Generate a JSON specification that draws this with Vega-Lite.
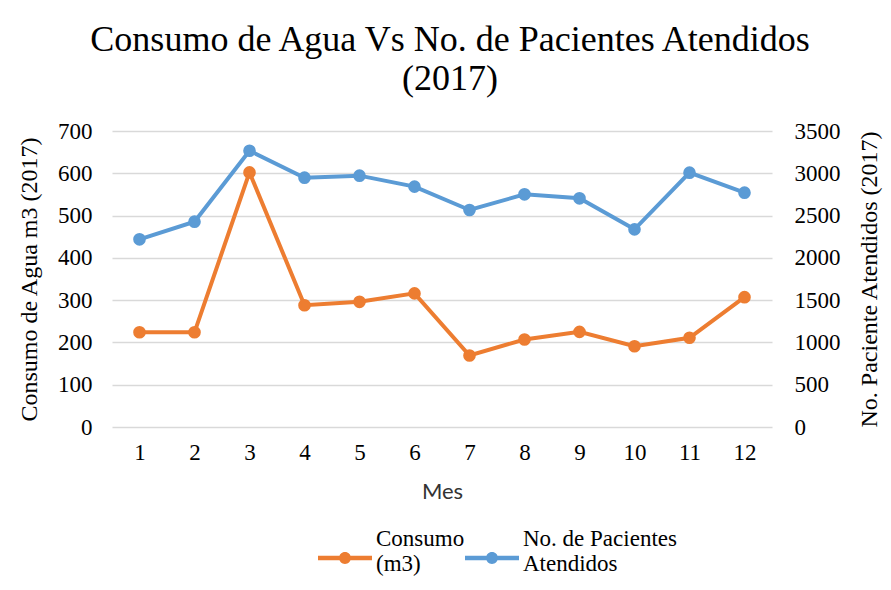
{
  "$schema": "https://vega.github.io/schema/vega-lite/v6.json",
  "autosize": {"type": "none"},
  "width": 660,
  "height": 296,
  "padding": {"left": 112, "top": 131, "right": 119, "bottom": 163},
  "background": "white",
  "title": {
    "text": ["Consumo de Agua Vs No. de Pacientes Atendidos", "(2017)"],
    "font": "Liberation Serif",
    "fontSize": 36,
    "fontWeight": "normal",
    "color": "#000000",
    "lineHeight": 39,
    "anchor": "middle",
    "frame": "group",
    "dx": 8,
    "offset": 22
  },
  "data": {
    "values": [
      {"mes": 1, "serie": "Consumo (m3)", "valor": 224},
      {"mes": 2, "serie": "Consumo (m3)", "valor": 224},
      {"mes": 3, "serie": "Consumo (m3)", "valor": 602},
      {"mes": 4, "serie": "Consumo (m3)", "valor": 288},
      {"mes": 5, "serie": "Consumo (m3)", "valor": 296},
      {"mes": 6, "serie": "Consumo (m3)", "valor": 316},
      {"mes": 7, "serie": "Consumo (m3)", "valor": 169},
      {"mes": 8, "serie": "Consumo (m3)", "valor": 207},
      {"mes": 9, "serie": "Consumo (m3)", "valor": 225},
      {"mes": 10, "serie": "Consumo (m3)", "valor": 191},
      {"mes": 11, "serie": "Consumo (m3)", "valor": 211},
      {"mes": 12, "serie": "Consumo (m3)", "valor": 307},
      {"mes": 1, "serie": "No. de Pacientes Atendidos", "valor": 2219},
      {"mes": 2, "serie": "No. de Pacientes Atendidos", "valor": 2428},
      {"mes": 3, "serie": "No. de Pacientes Atendidos", "valor": 3267},
      {"mes": 4, "serie": "No. de Pacientes Atendidos", "valor": 2948},
      {"mes": 5, "serie": "No. de Pacientes Atendidos", "valor": 2972},
      {"mes": 6, "serie": "No. de Pacientes Atendidos", "valor": 2842},
      {"mes": 7, "serie": "No. de Pacientes Atendidos", "valor": 2566},
      {"mes": 8, "serie": "No. de Pacientes Atendidos", "valor": 2751},
      {"mes": 9, "serie": "No. de Pacientes Atendidos", "valor": 2704},
      {"mes": 10, "serie": "No. de Pacientes Atendidos", "valor": 2337},
      {"mes": 11, "serie": "No. de Pacientes Atendidos", "valor": 3007},
      {"mes": 12, "serie": "No. de Pacientes Atendidos", "valor": 2771}
    ]
  },
  "encoding": {
    "x": {
      "field": "mes",
      "type": "ordinal",
      "scale": {"type": "point", "padding": 0.5},
      "axis": {
        "title": "Mes",
        "titleFont": "Lato",
        "titleFontSize": 22,
        "titleFontWeight": "normal",
        "titleColor": "#333333",
        "titlePadding": 17,
        "labelAngle": 0,
        "labelFont": "Liberation Serif",
        "labelFontSize": 23,
        "labelColor": "#000000",
        "labelPadding": 14,
        "domain": false,
        "ticks": false,
        "grid": false
      }
    },
    "color": {
      "field": "serie",
      "type": "nominal",
      "scale": {
        "domain": ["Consumo (m3)", "No. de Pacientes Atendidos"],
        "range": ["#ED7D31", "#5B9BD5"]
      },
      "legend": {
        "title": null,
        "orient": "none",
        "legendX": 206,
        "legendY": 400,
        "direction": "horizontal",
        "labelFont": "Liberation Serif",
        "labelFontSize": 23,
        "labelColor": "#000000",
        "labelExpr": "datum.value == 'Consumo (m3)' ? ['Consumo', '(m3)'] : ['No. de Pacientes', 'Atendidos']",
        "labelLimit": 300,
        "labelOffset": 4,
        "symbolType": "M-1,-0.08L1,-0.08L1,0.08L-1,0.08Z M0.22,0A0.22,0.22 0 1,1 -0.22,0A0.22,0.22 0 1,1 0.22,0Z",
        "symbolSize": 2916,
        "symbolStrokeWidth": 0,
        "symbolOpacity": 1,
        "columnPadding": 0,
        "encode": {
          "symbols": {"update": {"fill": {"field": "value", "scale": "color"}}},
          "labels": {
            "update": {
              "font": {"value": "Liberation Serif"},
              "fontSize": {"value": 23},
              "lineHeight": {"value": 25},
              "dy": {"value": -19},
              "fill": {"value": "#000000"}
            }
          }
        }
      }
    }
  },
  "layer": [
    {
      "transform": [{"filter": "datum.serie == 'Consumo (m3)'"}],
      "mark": {"type": "line", "strokeWidth": 4, "point": {"filled": true, "size": 160}},
      "encoding": {
        "y": {
          "field": "valor",
          "type": "quantitative",
          "scale": {"domain": [0, 700], "nice": false},
          "axis": {
            "title": "Consumo de Agua m3 (2017)",
            "orient": "left",
            "values": [0, 100, 200, 300, 400, 500, 600, 700],
            "titleFont": "Liberation Serif",
            "titleFontSize": 24,
            "titleFontWeight": "normal",
            "titleColor": "#000000",
            "titlePadding": 16,
            "labelFont": "Liberation Serif",
            "labelFontSize": 23,
            "labelColor": "#000000",
            "labelPadding": 20,
            "domain": false,
            "ticks": false,
            "grid": true,
            "gridColor": "#D9D9D9",
            "gridWidth": 1.5
          }
        }
      }
    },
    {
      "transform": [{"filter": "datum.serie == 'No. de Pacientes Atendidos'"}],
      "mark": {"type": "line", "strokeWidth": 4, "point": {"filled": true, "size": 160}},
      "encoding": {
        "y": {
          "field": "valor",
          "type": "quantitative",
          "scale": {"domain": [0, 3500], "nice": false},
          "axis": {
            "title": "No. Paciente Atendidos (2017)",
            "orient": "right",
            "format": "d",
            "values": [0, 500, 1000, 1500, 2000, 2500, 3000, 3500],
            "titleFont": "Liberation Serif",
            "titleFontSize": 24,
            "titleFontWeight": "normal",
            "titleColor": "#000000",
            "titleAngle": 270,
            "titleBaseline": "bottom",
            "titlePadding": 41,
            "labelFont": "Liberation Serif",
            "labelFontSize": 23,
            "labelColor": "#000000",
            "labelPadding": 22,
            "domain": false,
            "ticks": false,
            "grid": false
          }
        }
      }
    }
  ],
  "resolve": {"scale": {"y": "independent"}},
  "config": {
    "view": {"stroke": null}
  }
}
